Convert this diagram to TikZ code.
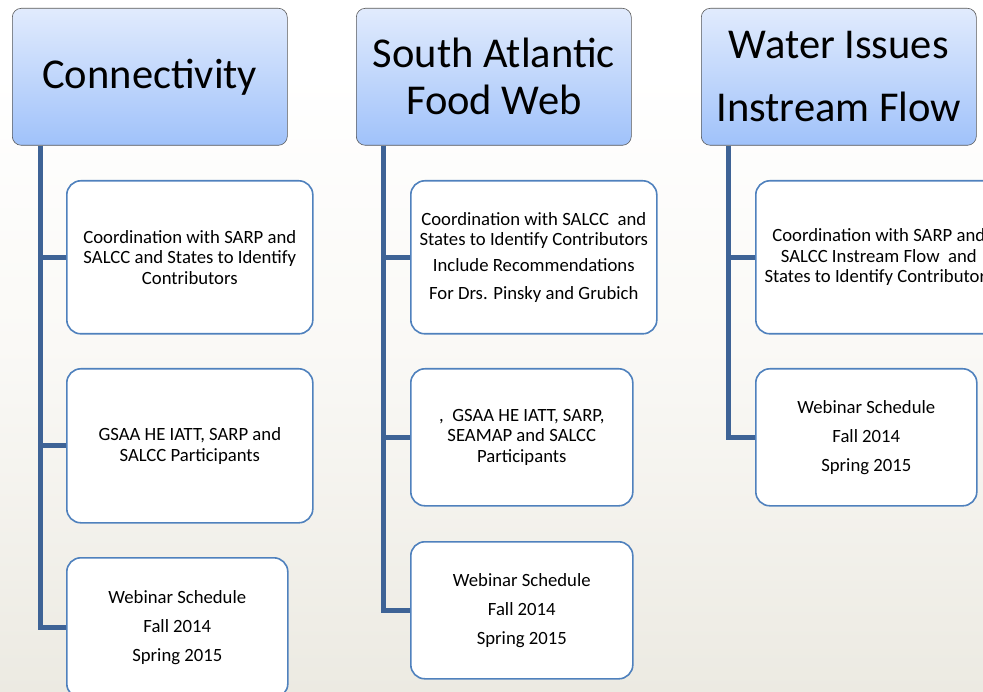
\documentclass[tikz,border=0pt]{standalone}
\usepackage{fontspec}
\setmainfont{Carlito}
\definecolor{bgbot}{RGB}{236,234,226}
\definecolor{bgmid}{RGB}{250,249,246}
\pgfdeclareverticalshading{bgshade}{100bp}{color(0bp)=(bgbot); color(25bp)=(bgbot); color(50bp)=(bgmid); color(70bp)=(white); color(100bp)=(white)}
\begin{document}
\begin{tikzpicture}[x=1pt,y=-1pt,
  hdr/.style={draw=black!65, line width=0.6pt, rounded corners=9pt,
    top color={rgb,255:red,225;green,235;blue,253},
    bottom color={rgb,255:red,160;green,194;blue,250},
    minimum width=275pt, minimum height=137pt, anchor=north west,
    align=center, inner sep=0pt},
  item/.style={draw={rgb,255:red,79;green,129;blue,189}, line width=1.6pt,
    rounded corners=14pt, fill=white, anchor=north west, align=center,
    font=\fontsize{18.7}{20.7}\selectfont, inner sep=0pt},
  sched/.style={font=\fontsize{18.7}{29}\selectfont},
  bar/.style={draw={rgb,255:red,62;green,99;blue,150}, line width=5pt}]
\useasboundingbox (0,0) rectangle (983,692);
\begin{scope}
\clip (0,0) rectangle (983,692);
\shade[shading=bgshade] (0,0) rectangle (983,692);
% headers
\node[hdr, font=\fontsize{42.5}{47}\selectfont] (h1) at (12,8) {Connectivity};
\node[hdr, font=\fontsize{42.5}{47}\selectfont] (h2) at (356,8) {South Atlantic\\Food Web};
\node[hdr, font=\fontsize{42.5}{63}\selectfont] (h3) at (701,8) {Water Issues\\Instream Flow};
% column 1
\node[item, minimum width=246pt, minimum height=153pt] (a1) at (66,180)
  {Coordination with SARP and\\SALCC and States to Identify\\Contributors};
\node[item, minimum width=246pt, minimum height=154pt] (a2) at (66,368)
  {GSAA HE IATT, SARP and\\SALCC Participants};
\node[item, sched, minimum width=221pt, minimum height=140pt] (a3) at (66,557)
  {Webinar Schedule\\Fall 2014\\Spring 2015};
% column 2
\node[item, minimum width=246pt, minimum height=153pt] (b1) at (410,180)
  {Coordination with SALCC\ \ and\\States to Identify Contributors\\[5pt]Include Recommendations\\[7pt]For Drs. Pinsky and Grubich};
\node[item, minimum width=222pt, minimum height=137pt] (b2) at (410,368)
  {,\ \ GSAA HE IATT, SARP,\\SEAMAP and SALCC\\Participants};
\node[item, sched, minimum width=222pt, minimum height=137pt] (b3) at (410,541)
  {Webinar Schedule\\Fall 2014\\Spring 2015};
% column 3
\node[item, minimum width=246pt, minimum height=153pt] (c1) at (755,180)
  {Coordination with SARP and\\SALCC Instream Flow\ \ and\\States to Identify Contributors};
\node[item, sched, minimum width=221pt, minimum height=137pt] (c2) at (755,368)
  {Webinar Schedule\\Fall 2014\\Spring 2015};
% connectors
\draw[bar] ([xshift=28pt]h1.south west) |- (a1.west);
\draw[bar] ([xshift=28pt]h1.south west) |- (a2.west);
\draw[bar] ([xshift=28pt]h1.south west) |- (a3.west);
\draw[bar] ([xshift=27pt]h2.south west) |- (b1.west);
\draw[bar] ([xshift=27pt]h2.south west) |- (b2.west);
\draw[bar] ([xshift=27pt]h2.south west) |- (b3.west);
\draw[bar] ([xshift=27pt]h3.south west) |- (c1.west);
\draw[bar] ([xshift=27pt]h3.south west) |- (c2.west);
\end{scope}
\end{tikzpicture}
\end{document}
